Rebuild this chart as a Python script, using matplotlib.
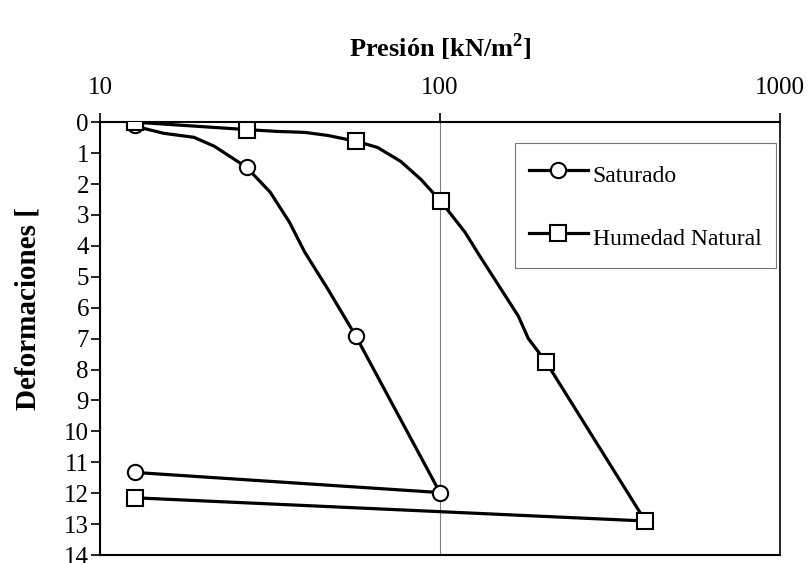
import numpy as np
import matplotlib
matplotlib.use("Agg")
import matplotlib.pyplot as plt
from matplotlib.lines import Line2D

plt.rcParams['font.family'] = ['Liberation Serif', 'DejaVu Serif']
plt.rcParams['mathtext.fontset'] = 'custom'
plt.rcParams['mathtext.rm'] = 'Liberation Serif'
plt.rcParams['mathtext.bf'] = 'Liberation Serif:bold'

# Saturado: curve points (pressure kN/m2, deformation) and which ones carry a marker
sat_p = [12.7, 13.1, 15.4, 18.9, 21.7, 27, 31.7, 36.1, 40, 46.8, 56.5, 100, 12.7]
sat_d = [0.1, 0.17, 0.36, 0.49, 0.78, 1.46, 2.27, 3.24, 4.2, 5.4, 6.91, 11.98, 11.33]
sat_mk = [0, 5, 10, 11, 12]

# Humedad Natural
hum_p = [12.7, 27, 33.3, 40, 46.8, 56.8, 65.6, 76.7, 87.9, 100.6,
         118.5, 131, 170, 182, 205, 402, 12.7]
hum_d = [0.0, 0.24, 0.30, 0.33, 0.43, 0.62, 0.82, 1.27, 1.85, 2.56,
         3.56, 4.33, 6.27, 7.0, 7.75, 12.9, 12.15]
hum_mk = [0, 1, 5, 9, 14, 15, 16]

fig = plt.figure(figsize=(8.09, 5.63), dpi=100)
ax = fig.add_axes([0.1236, 0.0142, 0.8404, 0.7688])

lw = 2.3
ax.plot(sat_p, sat_d, color='black', lw=lw, zorder=3)
ax.plot(np.array(sat_p)[sat_mk], np.array(sat_d)[sat_mk], 'o', ms=11,
        mfc='white', mec='black', mew=1.5, zorder=4)
ax.plot(hum_p, hum_d, color='black', lw=lw, zorder=5)
ax.plot(np.array(hum_p)[hum_mk], np.array(hum_d)[hum_mk], 's', ms=11,
        mfc='white', mec='black', mew=1.5, zorder=6)

ax.set_xscale('log')
ax.set_xlim(10, 1000)
ax.set_ylim(14, 0)
ax.set_yticks(range(0, 15))
ax.xaxis.tick_top()
ax.xaxis.set_label_position('top')
ax.set_xticks([10, 100, 1000])
ax.set_xticklabels(['10', '100', '1000'])
ax.xaxis.set_minor_locator(matplotlib.ticker.NullLocator())
ax.tick_params(axis='x', which='major', direction='out', length=6.5, width=1.2,
               labelsize=18, pad=10)
ax.tick_params(axis='y', direction='out', length=6.5, width=1.2, labelsize=18, pad=1.5)
ax.grid(axis='x', which='major', color='#808080', lw=0.8)
ax.set_axisbelow(True)

for s in ax.spines.values():
    s.set_linewidth(1.5)
ax.spines['right'].set_linewidth(1.2)

ax.set_xlabel(r'Presión [kN/m$^{\mathbf{2}}$]', fontsize=19, fontweight='bold',
              labelpad=15)
ax.set_ylabel('Deformaciones [', fontsize=21, fontweight='bold')
ax.yaxis.set_label_coords(-0.086, 0.57)

handles = [
    Line2D([], [], color='black', lw=lw, marker='o', ms=11, mfc='white',
           mec='black', mew=1.5),
    Line2D([], [], color='black', lw=lw, marker='s', ms=11, mfc='white',
           mec='black', mew=1.5),
]
leg = ax.legend(handles, ['Saturado', 'Humedad Natural'], loc='upper left',
                bbox_to_anchor=(0.610, 0.951), fontsize=17, frameon=True,
                fancybox=False, edgecolor='#555555', handlelength=2.5,
                handleheight=1.75, handletextpad=0.2, labelspacing=1.3,
                borderpad=0.6, borderaxespad=0)
leg.get_frame().set_linewidth(0.8)

fig.savefig('out.png', dpi=100)
